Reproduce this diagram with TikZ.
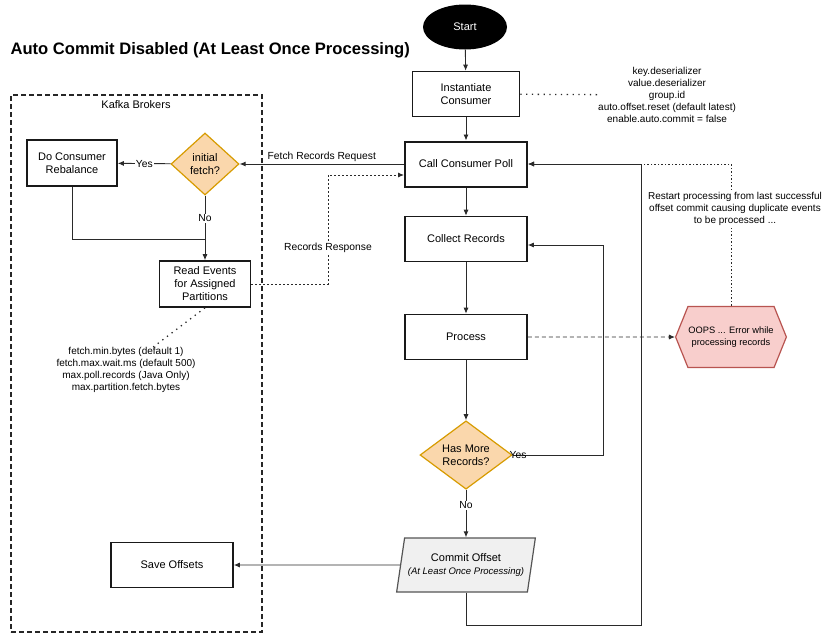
\documentclass[tikz,border=0pt]{standalone}
\usepackage{fontspec}
\setmainfont{Liberation Sans}
\usetikzlibrary{shapes.geometric,shapes.symbols,arrows.meta}
\definecolor{decfill}{HTML}{FAD7AC}
\definecolor{decline}{HTML}{D79B00}
\definecolor{errfill}{HTML}{F8CECC}
\definecolor{errline}{HTML}{B85450}
\definecolor{commitfill}{HTML}{F0F0F0}
\definecolor{commitline}{HTML}{555555}
\definecolor{wire}{HTML}{2A2A2A}

\begin{document}
\begin{tikzpicture}[x=1pt,y=-1pt,
    box/.style={draw=black!90,line width=1.6pt,minimum width=122pt,minimum height=45pt,
      align=center,font=\fontsize{11}{13}\selectfont},
    decision/.style={diamond,draw=decline,fill=decfill,line width=1.2pt,inner sep=0pt,
      align=center,font=\fontsize{11}{13}\selectfont},
    note/.style={align=center,font=\fontsize{10}{12}\selectfont,inner sep=0pt},
    lbl/.style={font=\fontsize{10.3}{12}\selectfont,inner sep=1pt},
    tip/.style={-{Latex[length=6pt,width=5pt]}},
    flow/.style={draw=wire,line width=0.9pt,tip},
    link/.style={draw=wire,line width=0.9pt},
    hint/.style={draw=wire,line width=1.3pt,dash pattern=on 1.3pt off 4.5pt},
    reply/.style={draw=wire,line width=0.9pt,dash pattern=on 2pt off 2pt,tip},
  ]
    \useasboundingbox (0,0) rectangle (830,637);% same frame as the reference

    \node[anchor=west,font=\fontsize{16.6}{20}\selectfont\bfseries] (title) at (7,50)
      {Auto Commit Disabled (At Least Once Processing)};

    % Kafka side
    \node[draw=black!85,line width=1.5pt,dash pattern=on 5pt off 3pt,minimum width=251pt,
      minimum height=537pt,inner sep=0pt] (brokers) at (136.5,363.5) {};
    \node[font=\fontsize{11}{13}\selectfont] (brokerslbl) at (136,105) {Kafka Brokers};
    \node[box,minimum width=90pt,minimum height=46pt] (rebal) at (72,163) {Do Consumer\\Rebalance};
    \node[decision,minimum width=68pt,minimum height=62pt] (initial) at (205,164) {initial\\fetch?};
    \node[box,minimum width=91pt,minimum height=46pt] (read) at (205,284)
      {Read Events\\for Assigned\\Partitions};
    \node[note,anchor=north] (fetchnote) at (126,347)
      {fetch.min.bytes (default 1)\\fetch.max.wait.ms (default 500)\\max.poll.records (Java Only)\\max.partition.fetch.bytes};
    \node[box] (save) at (172,565) {Save Offsets};

    % consumer side
    \node[ellipse,fill=black,minimum width=84pt,minimum height=45pt,text=white,
      font=\fontsize{11}{13}\selectfont] (start) at (465,27) {Start};
    \node[box,minimum width=107pt] (inst) at (466,94) {Instantiate\\Consumer};
    \node[note,anchor=west] (keys) at (598,95)
      {key.deserializer\\value.deserializer\\group.id\\auto.offset.reset (default latest)\\enable.auto.commit = false};
    \node[box,line width=2pt] (poll) at (466,164) {Call Consumer Poll};
    \node[box] (collect) at (466,239) {Collect Records};
    \node[box] (proc) at (466,337) {Process};
    \node[decision,minimum width=92pt,minimum height=67pt] (more) at (466,455) {Has More\\Records?};
    \node[trapezium,trapezium left angle=75,trapezium right angle=105,trapezium stretches=true,
      draw=commitline,fill=commitfill,line width=1.2pt,minimum width=137pt,minimum height=54pt,
      align=center,font=\fontsize{11}{13}\selectfont] (commit) at (466,565)
      {Commit Offset\\{\fontsize{9.5}{12}\selectfont\itshape (At Least Once Processing)}};
    \node[signal,signal to=east and west,signal pointer angle=136,draw=errline,fill=errfill,
      line width=1.2pt,minimum width=80pt,minimum height=61pt,inner sep=0.5pt,align=center,
      font=\fontsize{9.3}{12}\selectfont] (oops) at (731,337) {OOPS ... Error while\\processing records};

    \coordinate (merge) at (205,239);
    \coordinate (respturn) at (328,175);
    \coordinate (yesturn) at (603,245);
    \coordinate (loopturn) at (641,625);

    \draw[flow] (start) -- (inst);
    \draw[flow] (inst) -- (poll);
    \draw[flow] (poll) -- (collect);
    \draw[flow] (collect) -- (proc);
    \draw[flow] (proc) -- (more);
    \draw[flow] (more) -- node[lbl,fill=white,pos=0.33]{No} (commit);
    \draw[flow] (commit.west) -- (save.east);
    \draw[flow] (poll) -- node[lbl,above=1pt]{Fetch Records Request} (initial);
    \draw[flow] (initial) -- node[lbl,fill=white]{Yes} (rebal);
    \draw[flow] (initial) -- node[lbl,fill=white,pos=0.35]{No} (read);
    \draw[link] (rebal) |- (merge);
    \draw[reply] (read) -| node[lbl,fill=white,pos=0.665]{Records Response} (respturn)
      -- (respturn -| poll.west);
    \draw[flow] (more) -| node[lbl,pos=0.03]{Yes} (yesturn) -- (yesturn -| collect.east);
    \draw[flow] (commit) |- (loopturn) |- (poll.east);% back to the poll loop
    \draw[draw=wire,line width=0.9pt,dash pattern=on 4pt off 3pt,tip] (proc) -- (oops);
    \draw[draw=wire,line width=0.9pt,dash pattern=on 1.5pt off 2pt,tip] (oops) |- (poll.east);

    \draw[hint] (inst) -- (keys);
    \draw[hint] (read.south) -- (fetchnote.40);

    \node[note,fill=white,inner sep=2pt] (restart) at (735,209)
      {Restart processing from last successful\\offset commit causing duplicate events\\to be processed ...};
\end{tikzpicture}
\end{document}
